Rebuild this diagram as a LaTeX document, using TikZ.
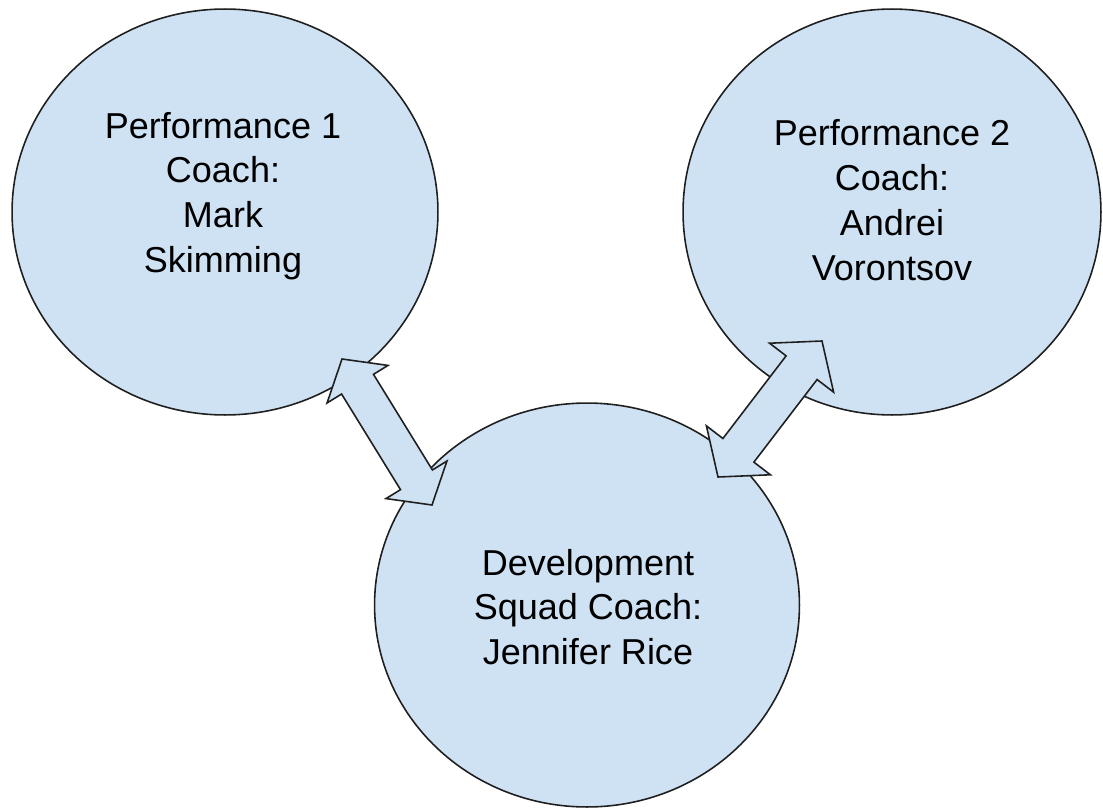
\documentclass[tikz,border=0pt]{standalone}
\usepackage{fontspec}
\setmainfont{Liberation Sans}
\usetikzlibrary{calc}
\definecolor{coachfill}{HTML}{CFE2F3}
\definecolor{coachline}{HTML}{1F1F1F}
\tikzset{
  coachcircle/.style={ellipse, draw=coachline, fill=coachfill, line width=0.9pt, inner sep=0pt, outer sep=0pt},
  coachtext/.style={align=center, text=black, font=\fontsize{20.5}{25.5}\selectfont, inner sep=0pt},
  arrowstyle/.style={draw=coachline, fill=coachfill, line width=0.9pt, line join=miter}
}
\newcommand\blockarrow[5]{%
  \path ($(#1)!#3!(#2)$) coordinate (ba1) ($(#2)!#3!(#1)$) coordinate (ba2);
  \draw[arrowstyle] (#1) -- ($(ba1)!#4!90:(#2)$) -- ($(ba1)!#5!90:(#2)$)
    -- ($(ba2)!#5!-90:(#1)$) -- ($(ba2)!#4!-90:(#1)$) -- (#2)
    -- ($(ba2)!#4!90:(#1)$) -- ($(ba2)!#5!90:(#1)$)
    -- ($(ba1)!#5!-90:(#2)$) -- ($(ba1)!#4!-90:(#2)$) -- cycle;
}
\usetikzlibrary{shapes.geometric}
\begin{document}
\begin{tikzpicture}[x=0.02cm, y=-0.02cm]
\useasboundingbox (0,0) rectangle (1103,808);
% circles
\node[coachcircle, minimum width=8.52cm, minimum height=8.12cm] (p1) at (225,212) {};
\node[coachcircle, minimum width=8.36cm, minimum height=8.12cm] (p2) at (892,212) {};
\node[coachcircle, minimum width=8.5cm, minimum height=8.08cm] (dev) at (587,605) {};
% texts
\node[coachtext] (p1t) at (223,196) {Performance 1\\Coach:\\Mark\\Skimming};
\node[coachtext] (p2t) at (892,200) {Performance 2\\Coach:\\Andrei\\Vorontsov};
\node[coachtext] (devt) at (588,607) {Development\\Squad Coach:\\Jennifer Rice};
% arrow tips
\coordinate (la) at (342,359);
\coordinate (lb) at (432,505);
\coordinate (ra) at (718,477);
\coordinate (rb) at (822,341);
\blockarrow{la}{lb}{0.592cm}{0.716cm}{0.375cm}
\blockarrow{ra}{rb}{0.672cm}{0.806cm}{0.39cm}
\end{tikzpicture}
\end{document}
